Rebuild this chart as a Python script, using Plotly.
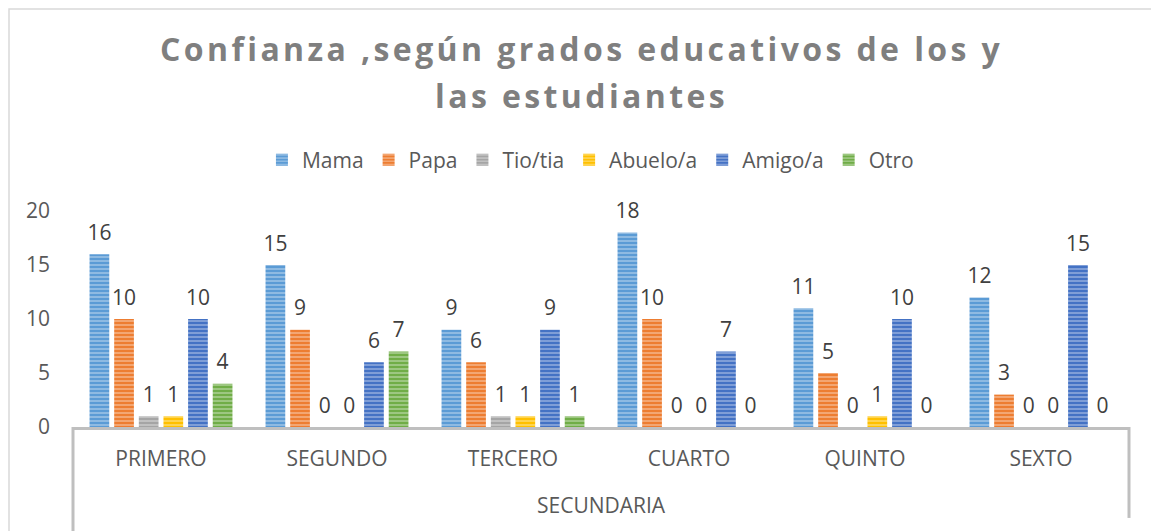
import plotly.graph_objects as go

# grades (categories) and answers per group
grados = ["PRIMERO", "SEGUNDO", "TERCERO", "CUARTO", "QUINTO", "SEXTO"]
mama = [16, 15, 9, 18, 11, 12]
papa = [10, 9, 6, 10, 5, 3]
tio_tia = [1, 0, 1, 0, 0, 0]
abuelo_a = [1, 0, 1, 0, 1, 0]
amigo_a = [10, 6, 9, 7, 10, 15]
otro = [4, 7, 1, 0, 0, 0]

series = [
    ("Mama", mama, "#5B9BD5"),
    ("Papa", papa, "#ED7D31"),
    ("Tio/tia", tio_tia, "#A5A5A5"),
    ("Abuelo/a", abuelo_a, "#FFC000"),
    ("Amigo/a", amigo_a, "#4472C4"),
    ("Otro", otro, "#70AD47"),
]

FONT = "Open Sans"
AXIS_GREY = "#BFBFBF"
TEXT_GREY = "#595959"
TITLE_GREY = "#7F7F7F"
FS = 21
BAR_GAP = 0.16

fig = go.Figure()
for k, (name, vals, color) in enumerate(series):
    fig.add_trace(go.Bar(
        x=grados, y=vals, name=name, offsetgroup=str(k),
        marker=dict(color=color, line=dict(width=0),
                    pattern=dict(shape="-", fgcolor="white", fgopacity=0.45,
                                 size=4, solidity=0.35)),
        hoverinfo="y+name",
    ))
# value labels, grouped the same way as the bars
for k, (name, vals, color) in enumerate(series):
    fig.add_trace(go.Scatter(
        x=grados, y=vals, offsetgroup=str(k), mode="markers+text",
        text=[str(v) for v in vals], textposition="top center",
        textfont=dict(family=FONT, size=FS, color="#404040"),
        marker=dict(size=13, opacity=0), showlegend=False, hoverinfo="skip",
        cliponaxis=False,
    ))

# the page body keeps its 8px margin, so the figure is 8px smaller each way
fig.update_layout(
    width=1151, height=523,
    paper_bgcolor="white", plot_bgcolor="white",
    margin=dict(l=65, r=30, t=203, b=104, autoexpand=False),
    barmode="group", bargap=BAR_GAP, bargroupgap=0.2,
    scattermode="group", scattergap=BAR_GAP,
    legend=dict(orientation="h", x=0.49, xanchor="center", y=1.236, yanchor="middle",
                font=dict(family=FONT, size=FS, color=TEXT_GREY),
                itemwidth=30),
    font=dict(family=FONT, size=FS, color=TEXT_GREY),
    showlegend=True,
)
fig.update_xaxes(
    showline=True, linecolor=AXIS_GREY, linewidth=3, showgrid=False,
    ticks="outside", ticklen=11, tickcolor="rgba(0,0,0,0)",
    tickfont=dict(family=FONT, size=FS, color=TEXT_GREY), fixedrange=True,
)
fig.update_yaxes(
    range=[0, 20], dtick=5, showline=False, showgrid=False, zeroline=False,
    ticks="", ticklabelstandoff=22,
    tickfont=dict(family=FONT, size=FS, color=TEXT_GREY), fixedrange=True,
)

# two-line title, letter spaced
title_lines = ["Confianza ,según grados educativos de los y", "las estudiantes"]
for text, ypos in zip(title_lines, [1.752, 1.534]):
    fig.add_annotation(
        text=f'<span style="letter-spacing:3.4px">{text}</span>',
        xref="paper", yref="paper", x=0.482, y=ypos, xanchor="center", yanchor="middle",
        showarrow=False,
        font=dict(family=FONT, size=32, color=TITLE_GREY, weight="bold"))

# category box below the axis and the outer chart frame
fig.add_shape(type="line", xref="paper", yref="paper", x0=0, x1=0, y0=0, y1=-0.55,
              line=dict(color=AXIS_GREY, width=3))
fig.add_shape(type="line", xref="paper", yref="paper", x0=1, x1=1, y0=0, y1=-0.421,
              line=dict(color=AXIS_GREY, width=3))
fig.add_shape(type="rect", xref="paper", yref="paper", x0=-0.0606, x1=1.0265,
              y0=-0.6, y1=1.935, line=dict(color="#D9D9D9", width=1.5), layer="below")
fig.add_annotation(text="SECUNDARIA", xref="paper", yref="paper", x=0.5, y=-0.361,
                   xanchor="center", yanchor="middle", showarrow=False,
                   font=dict(family=FONT, size=FS, color=TEXT_GREY))

fig.write_html("out.html")
